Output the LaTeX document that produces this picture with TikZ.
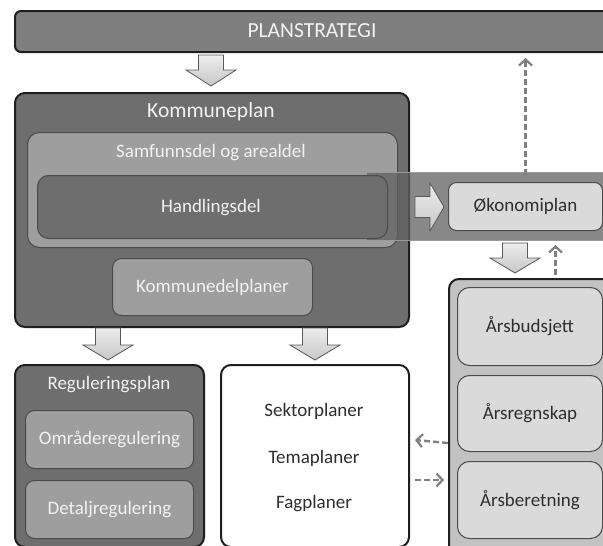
\documentclass[tikz,border=0pt]{standalone}
\usepackage{fontspec}
\setmainfont{Carlito}
\usetikzlibrary{arrows.meta}
\definecolor{bargray}{HTML}{7F7F7F}
\definecolor{darkfill}{HTML}{6E6E6E}
\definecolor{midfill}{HTML}{9E9E9E}
\definecolor{lightfill}{HTML}{DADADA}
\definecolor{colfill}{HTML}{C2C2C2}
\definecolor{edgecol}{HTML}{1E1E1E}
\definecolor{lighttxt}{HTML}{F2F2F2}
\definecolor{darktxt}{HTML}{2E2E2E}
\newcommand\barrowdown[4]{\draw[blockarrow] (#1-12.5,#2) -- (#1+12.5,#2) -- (#1+12.5,#4) -- (#1+25,#4) -- (#1,#3) -- (#1-25,#4) -- (#1-12.5,#4) -- cycle;}
\begin{document}
\begin{tikzpicture}[x=1pt,y=-1pt,
  outerbox/.style={draw=edgecol, line width=2pt, rounded corners=10pt, inner sep=0pt, anchor=north west},
  innerbox/.style={draw=edgecol!80, line width=1pt, rounded corners=9pt, inner sep=0pt, anchor=north west},
  whitetxt/.style={text=lighttxt, font=\fontsize{19}{22}\selectfont},
  titletxt/.style={text=lighttxt, font=\fontsize{21.5}{24}\selectfont},
  blacktxt/.style={text=darktxt, font=\fontsize{19}{22}\selectfont},
  blockarrow/.style={draw=black!65, line width=0.8pt, top color=white!93!black, bottom color=black!22},
  dasharrow/.style={draw=black!50, line width=2.4pt, dash pattern=on 6pt off 3pt, -{Straight Barb[length=6pt,width=13pt,line width=2.2pt]}}
]
\useasboundingbox (0,0) rectangle (603,546);
\clip (0,0) rectangle (603,546);
\fill[white] (0,0) rectangle (603,546);

% Planstrategi bar
\node[outerbox, fill=bargray, rounded corners=6pt, minimum width=620pt, minimum height=41pt] (plan) at (14,10) {};
\node[titletxt] (plantxt) at (312,31) {PLANSTRATEGI};

% Kommuneplan
\node[outerbox, fill=darkfill, minimum width=394pt, minimum height=234pt] (kp) at (14,92) {};
\node[titletxt] (kptxt) at (211,112) {Kommuneplan};
\node[innerbox, fill=midfill, minimum width=370pt, minimum height=115pt, rounded corners=12pt] (saa) at (27,132) {};
\node[whitetxt] (saatxt) at (211,153) {Samfunnsdel og arealdel};

% band behind Okonomiplan
\fill[black!62, opacity=0.75] (367,172) rectangle (610,240);
\draw[black!40, line width=0.8pt] (367,172) -- (610,172);
\draw[black!40, line width=0.8pt] (367,240) -- (610,240);

\node[innerbox, fill=darkfill, minimum width=350pt, minimum height=63pt, rounded corners=11pt] (hd) at (37,175) {};
\node[whitetxt] (hdtxt) at (211,208) {Handlingsdel};

\node[innerbox, fill=midfill, minimum width=200pt, minimum height=57pt] (kdp) at (112,258) {};
\node[whitetxt] (kdptxt) at (kdp.center) {Kommunedelplaner};

% Okonomiplan
\node[innerbox, fill=lightfill, minimum width=154pt, minimum height=48pt, rounded corners=8pt] (okon) at (448,182) {};
\node[blacktxt] (okontxt) at (okon.center) {Økonomiplan};

% right column
\node[outerbox, fill=colfill, minimum width=170pt, minimum height=290pt] (col) at (448,278) {};
\node[innerbox, fill=lightfill, minimum width=145pt, minimum height=78pt, rounded corners=12pt] (bud) at (457,287) {};
\node[blacktxt] (budtxt) at (bud.center) {Årsbudsjett};
\node[innerbox, fill=lightfill, minimum width=145pt, minimum height=76pt, rounded corners=12pt] (reg) at (457,375) {};
\node[blacktxt] (regtxt) at (reg.center) {Årsregnskap};
\node[innerbox, fill=lightfill, minimum width=145pt, minimum height=77pt, rounded corners=12pt] (ber) at (457,461) {};
\node[blacktxt] (bertxt) at (ber.center) {Årsberetning};

% Reguleringsplan
\node[outerbox, fill=darkfill, minimum width=189pt, minimum height=182pt] (rp) at (14,364) {};
\node[whitetxt] (rptxt) at (109,385) {Reguleringsplan};
\node[innerbox, fill=midfill, minimum width=168pt, minimum height=58pt] (omr) at (25,410) {};
\node[whitetxt] (omrtxt) at (omr.center) {Områderegulering};
\node[innerbox, fill=midfill, minimum width=168pt, minimum height=58pt] (det) at (25,480) {};
\node[whitetxt] (dettxt) at (det.center) {Detaljregulering};

% Sektor box
\node[outerbox, fill=white, minimum width=188pt, minimum height=182pt] (sek) at (220,364) {};
\node[blacktxt] (s1) at (314,411) {Sektorplaner};
\node[blacktxt] (s2) at (314,458) {Temaplaner};
\node[blacktxt] (s3) at (314,504) {Fagplaner};

% block arrows
\barrowdown{211}{55}{86}{70}
\barrowdown{515}{243}{273}{258}
\barrowdown{108}{328}{360}{345}
\barrowdown{315}{328}{360}{345}
\draw[blockarrow] (415,196.5) -- (430,196.5) -- (430,183) -- (444,207) -- (430,231) -- (430,217.5) -- (415,217.5) -- cycle;

% dashed arrows
\draw[dasharrow] ([yshift=7pt]okon.north) -- ([yshift=-5pt]okon.north |- plan.south);
\draw[dasharrow] ([xshift=30pt,yshift=3pt]col.north -| okon.center) -- ([xshift=30pt,yshift=-14pt]okon.south);
\draw[dasharrow] ([yshift=-3pt]col.west |- 0,440) -- ([xshift=5pt]sek.east |- 0,440);
\draw[dasharrow] ([xshift=5pt]sek.east |- 0,480) -- ([xshift=-4pt]col.west |- 0,480);
\end{tikzpicture}
\end{document}
